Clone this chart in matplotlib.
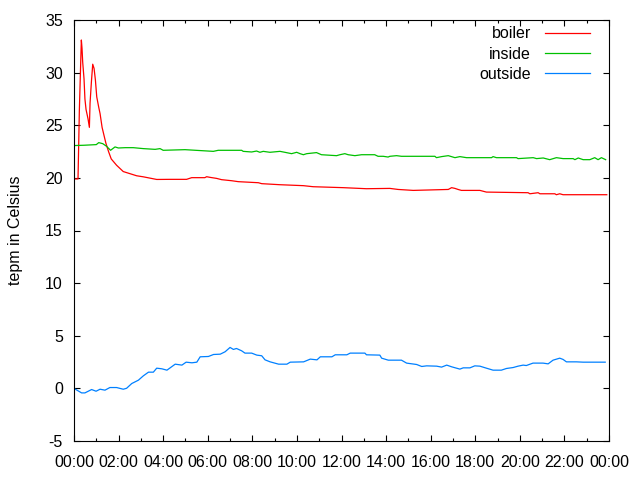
import matplotlib
matplotlib.use('Agg')
import matplotlib.pyplot as plt
from matplotlib.ticker import MultipleLocator

plt.rcParams['font.family'] = ['Liberation Sans', 'DejaVu Sans']
plt.rcParams['axes.unicode_minus'] = False

# hours since midnight / temperature
boiler_h = [0, 0.18, 0.2, 0.24, 0.30, 0.33, 0.36, 0.39, 0.45, 0.49, 0.54, 0.63, 0.69,
            0.72, 0.78, 0.84, 0.90, 0.96, 1.02, 1.11, 1.17, 1.26, 1.35, 1.43, 1.55, 1.67,
            1.91, 2.21, 2.51, 2.81, 3.11, 3.71, 4.3, 5.05, 5.28, 5.87, 5.95, 6.1, 6.4,
            6.62, 7.07, 7.37, 8.27, 8.42, 9.24, 10.29, 10.73, 12.08, 13.12, 14.17, 14.54,
            15.22, 16.79, 16.94, 17.09, 17.23, 17.38, 18.21, 18.5, 20.37, 20.45, 20.82,
            20.9, 21.57, 21.64, 21.79, 21.94, 23.9]
boiler_t = [19.9, 19.9, 22.0, 26.4, 30.9, 33.1, 32.3, 31.0, 29.4, 27.5, 26.5, 25.6, 24.8,
            27.1, 29.1, 30.8, 30.4, 29.3, 27.7, 26.7, 26.1, 24.8, 24.0, 23.3, 22.5, 21.8,
            21.2, 20.6, 20.4, 20.2, 20.1, 19.85, 19.86, 19.86, 20.02, 20.02, 20.11, 20.05,
            19.95, 19.83, 19.73, 19.64, 19.54, 19.45, 19.35, 19.26, 19.16, 19.07, 18.97,
            19.0, 18.9, 18.81, 18.9, 19.07, 19.0, 18.9, 18.81, 18.81, 18.65, 18.59, 18.49,
            18.59, 18.49, 18.49, 18.4, 18.49, 18.4, 18.4]

inside_h = [0, 0.45, 1.0, 1.11, 1.29, 1.46, 1.64, 1.84, 1.99, 2.3, 2.66, 3.11, 3.64, 3.86,
            4.0, 4.98, 6.25, 6.47, 7.52, 7.59, 7.97, 8.19, 8.34, 8.49, 8.79, 9.24, 9.46,
            9.76, 9.99, 10.14, 10.29, 10.44, 10.88, 11.1, 11.78, 11.93, 12.15, 12.3, 12.6,
            12.9, 13.49, 13.64, 13.87, 14.09, 14.17, 14.47, 14.69, 16.19, 16.26, 16.49,
            16.79, 17.09, 17.31, 17.61, 18.73, 18.8, 18.95, 19.85, 19.92, 20.6, 20.75,
            21.05, 21.34, 21.64, 21.94, 22.39, 22.47, 22.62, 22.84, 23.14, 23.36, 23.51,
            23.66, 23.85]
inside_t = [23.07, 23.1, 23.16, 23.35, 23.25, 23.0, 22.62, 22.94, 22.84, 22.87, 22.87,
            22.78, 22.71, 22.78, 22.62, 22.68, 22.52, 22.62, 22.62, 22.52, 22.46, 22.55,
            22.43, 22.52, 22.43, 22.52, 22.43, 22.30, 22.43, 22.30, 22.2, 22.30, 22.40,
            22.2, 22.11, 22.2, 22.30, 22.2, 22.11, 22.2, 22.2, 22.05, 22.05, 21.98, 22.05,
            22.11, 22.05, 22.05, 21.92, 22.02, 22.11, 21.92, 22.02, 21.92, 21.92, 22.02,
            21.92, 21.92, 21.83, 21.92, 21.83, 21.89, 21.73, 21.92, 21.83, 21.83, 21.73,
            21.89, 21.73, 21.73, 21.92, 21.73, 21.92, 21.73]

outside_h = [0.01, 0.19, 0.34, 0.49, 0.79, 0.99, 1.17, 1.39, 1.61, 1.91, 2.21, 2.36, 2.59,
             2.89, 3.11, 3.34, 3.56, 3.71, 3.94, 4.17, 4.54, 4.84, 5.03, 5.29, 5.51, 5.66,
             6.03, 6.26, 6.56, 6.78, 7.0, 7.15, 7.29, 7.52, 7.67, 7.97, 8.2, 8.42, 8.57,
             8.8, 9.18, 9.55, 9.7, 10.3, 10.6, 10.9, 11.05, 11.57, 11.72, 12.24, 12.39,
             12.6, 13.05, 13.12, 13.72, 13.8, 14.1, 14.69, 14.92, 15.37, 15.6, 15.82,
             16.27, 16.49, 16.72, 16.94, 17.31, 17.46, 17.76, 17.98, 18.21, 18.5, 18.8,
             19.17, 19.4, 19.7, 19.92, 20.15, 20.29, 20.59, 21.04, 21.27, 21.49, 21.79,
             21.94, 22.09, 22.54, 22.84, 23.83]
outside_t = [-0.02, -0.24, -0.43, -0.43, -0.11, -0.27, -0.08, -0.17, 0.08, 0.08, -0.08,
             0.01, 0.46, 0.78, 1.19, 1.54, 1.54, 1.92, 1.86, 1.73, 2.30, 2.21, 2.49, 2.43,
             2.49, 3.0, 3.03, 3.22, 3.25, 3.48, 3.89, 3.70, 3.79, 3.57, 3.35, 3.35, 3.16,
             3.10, 2.71, 2.52, 2.30, 2.30, 2.49, 2.52, 2.78, 2.71, 3.0, 3.0, 3.19, 3.19,
             3.35, 3.35, 3.35, 3.19, 3.16, 2.87, 2.68, 2.68, 2.40, 2.27, 2.08, 2.14, 2.11,
             2.02, 2.21, 2.05, 1.83, 1.95, 1.95, 2.14, 2.11, 1.92, 1.73, 1.73, 1.89, 1.98,
             2.11, 2.21, 2.17, 2.40, 2.40, 2.33, 2.68, 2.87, 2.75, 2.52, 2.52, 2.49, 2.49]

xtick_pos = list(range(0, 25, 2))
xtick_labels = ['00:00', '02:00', '04:00', '06:00', '08:00', '10:00', '12:00',
                '14:00', '16:00', '18:00', '20:00', '22:00', '00:00']

fig = plt.figure(figsize=(6.4, 4.8), dpi=100)
ax = fig.add_axes([74 / 640, 1 - 441 / 480, 535 / 640, 421 / 480])

ax.plot(boiler_h, boiler_t, color='#ff0000', lw=0.9, label='boiler')
ax.plot(inside_h, inside_t, color='#00c000', lw=0.9, label='inside')
ax.plot(outside_h, outside_t, color='#0080ff', lw=0.9, label='outside')

ax.set_xlim(0, 24)
ax.set_ylim(-5, 35)
ax.set_xticks(xtick_pos)
ax.set_xticklabels(xtick_labels)
ax.xaxis.set_minor_locator(MultipleLocator(1))
ax.yaxis.set_major_locator(MultipleLocator(5))
ax.tick_params(which='both', direction='in', top=True, right=True, labelsize=11.5, width=0.8)
ax.tick_params(axis='y', which='major', length=4.5, pad=8)
ax.tick_params(axis='x', which='major', length=4.5, pad=10)
ax.tick_params(which='minor', length=2.2)
for s in ax.spines.values():
    s.set_linewidth(0.8)

ax.set_ylabel('tepm in Celsius', fontsize=11.5, labelpad=16)

ax.legend(loc='upper right', bbox_to_anchor=(0.9645, 0.985), frameon=False,
          markerfirst=False, fontsize=11.5, handlelength=2.8, handletextpad=0.9,
          labelspacing=0.33, borderpad=0, borderaxespad=0)

fig.savefig('out.png', dpi=100)
